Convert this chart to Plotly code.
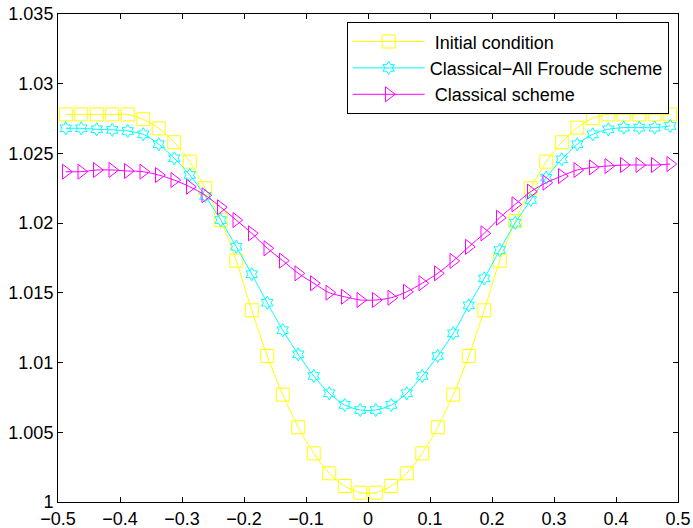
import numpy as np
import plotly.graph_objects as go

# marker positions (cell centres)
x = [-0.4875 + 0.025 * i for i in range(40)]

# Initial condition
y_init = [1.0278, 1.0278, 1.0278, 1.0278, 1.0278, 1.02745, 1.0268, 1.0258, 1.02441, 1.0225,
          1.02022, 1.01731, 1.01375, 1.01047, 1.0077, 1.00536, 1.00349, 1.00206, 1.00115, 1.00067,
          1.00067, 1.00115, 1.00206, 1.00349, 1.00536, 1.0077, 1.01047, 1.01375, 1.01731, 1.02015,
          1.0225, 1.02441, 1.0258, 1.02685, 1.02752, 1.0278, 1.0278, 1.0278, 1.0278, 1.0278]

# Classical-All Froude scheme
y_froude = [1.0268, 1.0268, 1.02673, 1.02669, 1.02661, 1.02637, 1.02566, 1.02465, 1.02345, 1.02195,
            1.02022, 1.01831, 1.01634, 1.01429, 1.01232, 1.01059, 1.00904, 1.0078, 1.00696, 1.0066,
            1.0066, 1.00696, 1.0078, 1.00904, 1.01047, 1.0121, 1.01410, 1.01604, 1.01807, 1.02003,
            1.02166, 1.02326, 1.02458, 1.02566, 1.02637, 1.02673, 1.02685, 1.02685, 1.02685, 1.02697]

# Classical scheme
y_classic = [1.02369, 1.02369, 1.02381, 1.02381, 1.02374, 1.02369, 1.02345, 1.02309, 1.02261, 1.02200,
             1.02114, 1.02022, 1.01927, 1.0182, 1.01731, 1.0164, 1.01569, 1.01501, 1.01472, 1.01449,
             1.01449, 1.01465, 1.01508, 1.01569, 1.0164, 1.01729, 1.01830, 1.01927, 1.02039, 1.02135,
             1.02226, 1.0229, 1.02338, 1.02381, 1.024, 1.0241, 1.02417, 1.02417, 1.02417, 1.02424]

x_ticks = [-0.5, -0.4, -0.3, -0.2, -0.1, 0, 0.1, 0.2, 0.3, 0.4, 0.5]
x_labels = ['\u22120.5', '\u22120.4', '\u22120.3', '\u22120.2', '\u22120.1', '0', '0.1', '0.2', '0.3', '0.4', '0.5']
y_ticks = [1, 1.005, 1.01, 1.015, 1.02, 1.025, 1.03, 1.035]
y_labels = ['1', '1.005', '1.01', '1.015', '1.02', '1.025', '1.03', '1.035']

fig = go.Figure()
series = [
    ('\u00a0Initial condition', y_init, '#ffff00', 'square-open', 13),
    ('Classical\u2212All Froude scheme', y_froude, '#00ffff', 'hexagram-open', 10),
    ('\u00a0Classical scheme', y_classic, '#ff00ff', 'triangle-right-open', 13),
]
for name, y, color, symbol, size in series:
    fig.add_trace(
        go.Scatter(
            x=x,
            y=y,
            mode='lines+markers',
            name=name,
            line=dict(color=color, width=1, shape='spline', smoothing=0.8),
            marker=dict(symbol=symbol, size=size, color=color, line=dict(color=color, width=1)),
        )
    )

axis_common = dict(
    showline=True, linecolor='black', linewidth=1, mirror='ticks',
    ticks='inside', ticklen=5, tickcolor='black', showgrid=False, zeroline=False,
    automargin=False,
    tickfont=dict(family='Liberation Sans, Arial, sans-serif', size=18, color='black'),
)
fig.update_xaxes(range=[-0.5, 0.5], tickvals=x_ticks, ticktext=x_labels, **axis_common)
fig.update_yaxes(range=[1, 1.035], tickvals=y_ticks, ticktext=y_labels, **axis_common)

fig.update_layout(
    width=693, height=528,
    margin=dict(l=58, r=15, t=14, b=26),
    paper_bgcolor='white', plot_bgcolor='white',
    font=dict(family='Liberation Sans, Arial, sans-serif', size=18, color='black'),
    legend=dict(
        x=0.985, y=0.983, xanchor='right', yanchor='top',
        bordercolor='black', borderwidth=1, bgcolor='white',
        font=dict(size=18), itemwidth=72, tracegroupgap=0,
    ),
)

# drop the page's default body margin so the figure fills the window
fig.write_html("out.html", config={'displayModeBar': False},
               post_script="document.body.style.margin='0';")
